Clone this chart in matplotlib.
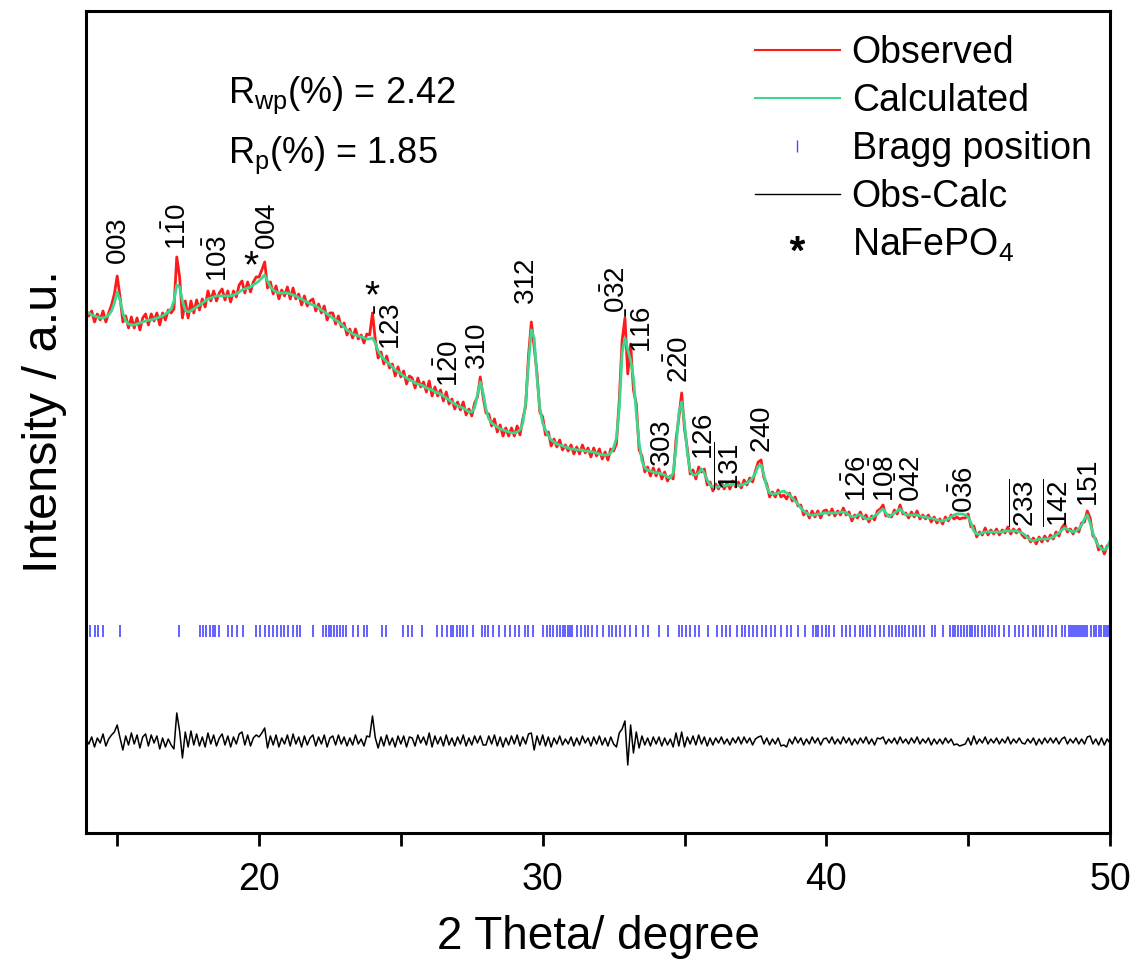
import matplotlib
matplotlib.use('Agg')
import matplotlib.pyplot as plt
from matplotlib.lines import Line2D
import numpy as np

plt.rcParams['font.family'] = ['Liberation Sans', 'DejaVu Sans']
plt.rcParams['mathtext.fontset'] = 'custom'
plt.rcParams['mathtext.rm'] = 'Liberation Sans'
plt.rcParams['mathtext.it'] = 'Liberation Sans'
plt.rcParams['mathtext.bf'] = 'Liberation Sans'

# 2theta grid starts at 13.9 deg, 0.1 deg steps (intensity in a.u.)
two_theta_start = 13.9
calc = [521,
    520, 518, 517, 516, 515, 515, 516, 518, 522, 530,
    541, 533, 520, 512, 509, 508, 508, 509, 510, 511,
    512, 513, 513, 514, 515, 516, 517, 519, 521, 524,
    532, 548, 546, 532, 523, 521, 522, 524, 526, 528,
    530, 532, 534, 535, 536, 537, 537, 537, 537, 537,
    537, 538, 539, 541, 543, 544, 545, 546, 548, 550,
    552, 555, 558, 552, 546, 543, 541, 540, 540, 540,
    540, 539, 538, 537, 535, 534, 532, 531, 529, 528,
    527, 525, 523, 521, 519, 517, 515, 513, 511, 509,
    506, 503, 501, 499, 498, 497, 496, 495, 494, 494,
    495, 490, 482, 477, 474, 471, 469, 466, 463, 461,
    459, 457, 455, 453, 452, 450, 449, 448, 447, 445,
    444, 443, 441, 440, 439, 437, 435, 433, 431, 429,
    427, 426, 425, 423, 421, 421, 425, 438, 451, 440,
    424, 414, 410, 408, 406, 404, 403, 402, 401, 400,
    400, 401, 403, 410, 430, 470, 503, 495, 455, 425,
    410, 403, 397, 393, 391, 389, 388, 387, 386, 385,
    384, 384, 383, 383, 383, 382, 382, 381, 381, 380,
    379, 378, 378, 378, 380, 385, 395, 425, 480, 495,
    483, 473, 455, 420, 390, 372, 365, 363, 362, 361,
    360, 360, 359, 358, 356, 355, 360, 385, 420, 431,
    410, 380, 362, 358, 358, 360, 364, 360, 353, 348,
    346, 346, 346, 347, 347, 348, 348, 349, 348, 347,
    348, 349, 350, 352, 355, 360, 367, 368, 358, 346,
    340, 339, 339, 340, 341, 342, 340, 338, 335, 332,
    329, 325, 322, 320, 318, 318, 318, 319, 319, 320,
    320, 320, 320, 320, 320, 321, 321, 320, 318, 316,
    316, 318, 318, 316, 314, 314, 315, 317, 319, 322,
    324, 320, 316, 318, 320, 322, 324, 321, 318, 318,
    318, 318, 318, 317, 316, 316, 315, 315, 314, 313,
    312, 312, 313, 314, 316, 318, 319, 319, 319, 318,
    316, 310, 302, 299, 299, 300, 301, 301, 301, 301,
    301, 301, 301, 302, 302, 302, 302, 302, 301, 300,
    298, 295, 293, 292, 293, 294, 294, 294, 294, 295,
    296, 298, 300, 303, 305, 304, 302, 301, 302, 304,
    308, 314, 318, 310, 300, 292, 287, 284, 283, 285,
    292]

# Obs-Calc residual
resid = [2,
    -3, 4, -6, 3, -2, 7, -5, 2, 6, 9,
    16, 3, -9, 5, -4, 8, -3, 6, -7, 4,
    7, -5, 6, -2, 5, -8, 3, -6, 2, -4,
    -8, 28, 10, -17, 9, -6, 10, -4, 7, -5,
    4, -6, 8, -3, 6, -5, 3, 7, -4, 5,
    -6, 4, -3, 7, 9, -4, 6, -5, 3, 6,
    4, 8, 13, -7, 5, -4, 6, -6, 3, -3,
    6, -5, 7, -3, 4, -6, 5, -4, 3, 6,
    -5, 4, -3, 6, -6, 3, 5, -4, 6, -3,
    4, -5, 3, -4, 6, -3, 2, -5, 5, 4,
    25, 3, -7, 4, -5, 6, -4, 3, -6, 5,
    -3, 5, -6, 4, 3, -5, 6, -2, 4, -4,
    8, -6, 5, -3, 4, -5, 6, -4, 3, -5,
    4, -3, 6, -5, 3, -4, 5, -2, 5, -4,
    -4, 5, -3, 6, -5, 4, -6, 3, -4, 5,
    -3, 6, -5, 4, -3, 7, 8, -9, 5, -4,
    6, -5, 4, -6, 3, -3, 5, -4, 2, -3,
    4, -5, 3, -4, 5, -2, 3, -5, 4, -3,
    5, -4, 3, -5, 4, -3, -6, 8, 12, 20,
    -24, 16, -12, 9, -7, 5, -4, 3, -5, 4,
    -3, 4, -5, 3, -4, 2, -6, 8, -5, 9,
    -6, 4, -3, 5, -4, 6, -3, 4, -5, 3,
    -4, 3, -2, 4, -3, 2, -4, 3, -2, 4,
    -3, 4, -2, 3, -4, 2, 4, 5, -3, 3,
    -4, 2, -3, 3, -5, -4, -6, 2, -3, 4,
    -2, 3, -4, 2, -3, 4, -2, 3, -4, 2,
    3, -2, 4, -3, 2, -3, 4, -2, 3, -4,
    2, -3, 3, -2, 4, -3, 2, -4, 3, 2,
    4, -3, 2, -2, 3, -3, 4, -2, 2, -3,
    3, -2, 4, -3, 2, -2, 3, -4, 2, -3,
    2, -3, 3, -2, 2, -4, -3, -5, -4, -3,
    3, -4, 5, -3, 2, -2, 4, -3, 2, -2,
    3, -3, 2, -2, 4, -3, 2, -2, 3, -2,
    -3, 2, -2, 3, -4, 2, -3, 3, -2, 3,
    -2, 3, -3, 2, 4, -3, 2, -2, 3, -3,
    2, -3, 4, 5, -3, 2, -4, 3, -4, 2,
    -2]

bragg = [14.04, 14.22, 14.33, 14.50, 15.10, 17.18,
    17.92, 18.03, 18.13, 18.27, 18.38, 18.45, 18.59, 18.91, 19.05, 19.22, 19.44,
    19.89, 20.04, 20.21, 20.35, 20.49, 20.63, 20.78, 20.88, 21.02, 21.20, 21.34, 21.45,
    21.90, 22.26, 22.35, 22.45, 22.55, 22.65, 22.75, 22.85, 22.95, 23.05,
    23.31, 23.49, 23.70, 23.81, 24.34, 24.48, 25.08, 25.25, 25.39, 25.75,
    26.27, 26.45, 26.63, 26.77, 26.84, 26.98, 27.08, 27.19, 27.33, 27.54,
    27.86, 27.97, 28.07, 28.25, 28.46, 28.67, 28.85, 29.02, 29.16, 29.38, 29.48, 29.65,
    30.01, 30.15, 30.26, 30.36, 30.50, 30.62, 30.72, 30.80, 30.88, 30.97, 31.05,
    31.20, 31.35, 31.48, 31.60, 31.75, 31.92, 32.13, 32.34, 32.45, 32.58, 32.72,
    32.90, 33.08, 33.29, 33.54, 33.71, 34.10, 34.42, 34.80, 34.92, 35.05, 35.18, 35.37,
    35.51, 35.83, 36.14, 36.32, 36.45, 36.60, 36.85, 37.03, 37.15, 37.28, 37.40, 37.55, 37.73,
    37.87, 38.05, 38.20, 38.40, 38.62, 38.75, 39.00, 39.25, 39.53, 39.62, 39.72, 39.85,
    39.98, 40.10, 40.27, 40.55, 40.70, 40.85, 41.02, 41.20, 41.30, 41.43, 41.55, 41.70,
    41.90, 42.05, 42.21, 42.32, 42.45, 42.55, 42.65, 42.78, 42.90, 43.05, 43.16, 43.30,
    43.45, 43.72, 43.83, 44.11, 44.36, 44.45, 44.55, 44.65, 44.75, 44.85, 44.95, 45.05,
    45.15, 45.25, 45.35, 45.48, 45.60, 45.72, 45.85, 45.96, 46.10, 46.26, 46.44, 46.65,
    46.80, 46.95, 47.12, 47.28, 47.40, 47.52, 47.65, 47.80, 47.95, 48.10, 48.30, 48.41,
    48.55, 48.62, 48.68, 48.75, 48.82, 48.90, 48.97, 49.05, 49.12, 49.18,
    49.33, 49.43, 49.52, 49.60, 49.70, 49.78, 49.86, 49.94]

hkl_labels = [r'$003$', r'$1\bar{1}0$', r'$10\bar{3}$', r'$004$', r'$12\bar{3}$',
              r'$1\bar{2}0$', r'$310$', r'$312$', r'$0\bar{3}2$', r'$11\bar{6}$',
              r'$303$', r'$2\bar{2}0$', r'$126$', r'$\overline{131}$', r'$240$',
              r'$1\bar{2}6$', r'$10\bar{8}$', r'$0\bar{4}2$', r'$0\bar{3}6$',
              r'$\overline{233}$', r'$\overline{142}$', r'$151$']
hkl_x = [15.05, 17.15, 18.6, 20.3, 24.7, 26.73, 27.72, 29.45, 32.62, 33.54, 34.24,
         34.84, 35.72, 36.6, 37.77, 41.11, 42.1, 43.02, 44.89, 47.0, 48.23, 49.29]
hkl_y = [568, 583, 551, 583, 483, 446, 463, 528, 520, 480, 366,
         450, 373, 343, 380, 331, 331, 331, 320, 306, 306, 326]

# NaFePO4 impurity marks
star_x = [19.72, 23.98]
star_y = [566, 536]

diff_offset = 92
bragg_lo, bragg_hi = 196, 208

calc = np.array(calc, dtype=float)
resid = np.array(resid, dtype=float)
obs = calc + resid
tt = two_theta_start + 0.1 * np.arange(len(calc))

fig = plt.figure(figsize=(11.36, 9.6), dpi=100)
ax = fig.add_axes([0.0757, 0.1323, 0.9014, 0.8563])

ax.plot(tt, obs, color='#ff1a1a', lw=2)
ax.plot(tt, calc, color='#3dd68c', lw=2)
ax.vlines(bragg, bragg_lo, bragg_hi, color='#4848ff', lw=1.2)
ax.plot(tt, resid + diff_offset, color='black', lw=1.1)

for lab, x, y in zip(hkl_labels, hkl_x, hkl_y):
    ax.text(x, y, lab, rotation=90, ha='center', va='bottom', fontsize=20)
for x, y in zip(star_x, star_y):
    ax.text(x, y, '*', ha='center', va='center', fontsize=28)

ax.text(0.139, 0.897, r'R$_{\rm wp}$(%) = 2.42', transform=ax.transAxes,
        fontsize=26, va='center')
ax.text(0.139, 0.825, r'R$_{\rm p}$(%) = 1.85', transform=ax.transAxes,
        fontsize=26, va='center')

handles = [Line2D([], [], color='#ff1a1a', lw=1.5),
           Line2D([], [], color='#3dd68c', lw=1.5),
           Line2D([], [], color='#4848ff', lw=0, marker='|', markersize=8),
           Line2D([], [], color='black', lw=1),
           Line2D([], [], color='black', lw=0, marker='$*$', markersize=10)]
names = ['Observed', 'Calculated', 'Bragg position', 'Obs-Calc', r'NaFePO$_4$']
ax.legend(handles, names, loc='upper left', bbox_to_anchor=(0.62, 1.012),
          frameon=False, fontsize=27, handlelength=2.27, labelspacing=0.32,
          handletextpad=0.32)

ax.set_xlim(13.9, 50)
ax.set_ylim(0, 822)
ax.set_xticks([20, 30, 40, 50])
ax.set_xticks([15, 25, 35, 45], minor=True)
ax.set_yticks([])
for s in ax.spines.values():
    s.set_linewidth(2.2)
ax.tick_params(axis='x', which='both', direction='out', length=9, width=2,
               labelsize=27, pad=12)
ax.set_xlabel('2 Theta/ degree', fontsize=33, labelpad=12)
ax.set_ylabel('Intensity / a.u.', fontsize=35, labelpad=14)

plt.savefig('out.png', dpi=100)
